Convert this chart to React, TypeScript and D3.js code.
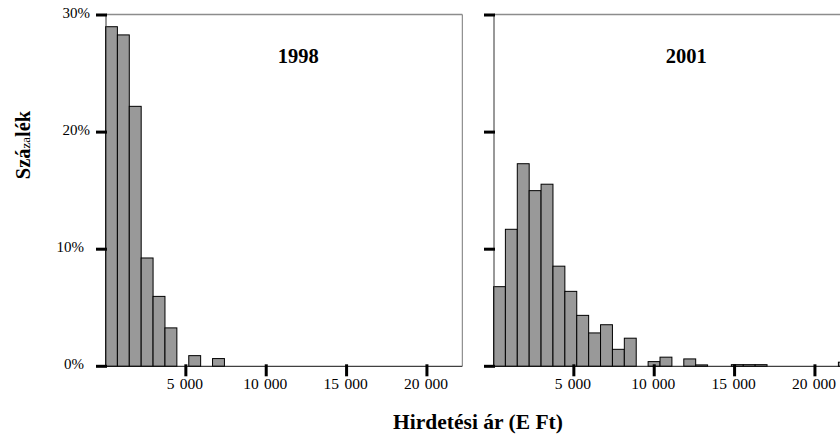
import { scaleLinear } from 'd3';

// Histograms of listing prices (thousand Ft), share of listings per price bin.
const BIN_WIDTH = 740;
const pct1998 = [29.0, 28.3, 22.2, 9.25, 5.97, 3.28, 0, 0.91, 0, 0.66];
const pct2001 = [
  6.8, 11.7, 17.3, 15.0, 15.55, 8.55, 6.4, 4.35, 2.85, 3.55,
  1.45, 2.4, 0, 0.4, 0.78, 0, 0.63, 0.12, 0, 0,
  0.14, 0.14, 0.14, 0, 0, 0, 0, 0, 0, 0.35,
];
const xTicks = [5000, 10000, 15000, 20000];
const yTicks = [0, 10, 20, 30];
const panels = [
  { title: '1998', values: pct1998, left: 105.5, showYLabels: true },
  { title: '2001', values: pct2001, left: 493.5, showYLabels: false },
];

const W = 840;
const H = 435;
const FONT = '"Liberation Serif", "Times New Roman", serif';
const PLOT_W = 356.8;

function Panel({ title, values, left, showYLabels }: { title: string; values: number[]; left: number; showYLabels: boolean }) {
  const x = scaleLinear().domain([0, 22200]).range([left, left + PLOT_W]);
  const y = scaleLinear().domain([0, 30]).range([366.3, 15]);
  const x0 = x(0) + 0.5;
  const x1 = x(22200);
  const yTop = y(30) - 0.5;
  const yBase = y(0);
  return (
    <g>
      {/* frame: gray top and right, dark left and bottom */}
      <line x1={x0} x2={x1} y1={yTop} y2={yTop} stroke="#8c8c8c" strokeWidth={1.5} />
      <line x1={x1} x2={x1} y1={yTop} y2={yBase} stroke="#777" strokeWidth={1} />
      {values.map((v, i) =>
        v > 0 ? (
          <rect
            key={i}
            x={x(i * BIN_WIDTH)}
            y={y(v)}
            width={x((i + 1) * BIN_WIDTH) - x(i * BIN_WIDTH)}
            height={yBase - y(v)}
            fill="#999"
            stroke="#000"
            strokeWidth={1}
          />
        ) : null,
      )}
      <line x1={x0} x2={x0} y1={yTop} y2={yBase} stroke="#333" strokeWidth={1} />
      <line x1={x0} x2={x1} y1={yBase} y2={yBase} stroke="#111" strokeWidth={1} />
      {yTicks.map((t) => (
        <g key={t}>
          <rect x={x0 - 10} y={y(t) - 1.5} width={11} height={3} fill="#000" />
          {showYLabels && (
            <text x={t >= 20 ? 90 : 84} y={y(t) + 2.5} textAnchor="end" fill="#000" style={{ fontSize: 15, fontFamily: FONT }}>
              {t}%
            </text>
          )}
        </g>
      ))}
      {xTicks.map((t) => (
        <g key={t}>
          <rect x={x(t) - 1.5} y={yBase - 2} width={3} height={12} fill="#000" />
          {/* thousands separated by a slightly wider gap, as in the source */}
          <text x={x(t) - 1} y={389} textAnchor="middle" fill="#000" style={{ fontSize: 15.5, fontFamily: FONT }}>
            <tspan>{Math.floor(t / 1000)} </tspan>
            <tspan dx={1.5}>{String(t % 1000).padStart(3, '0')}</tspan>
          </text>
        </g>
      ))}
      <text x={x(12000)} y={63} textAnchor="middle" fill="#000" style={{ fontSize: 20.5, fontWeight: 700, fontFamily: FONT }}>
        {title}
      </text>
    </g>
  );
}

export default function App() {
  return (
    <svg width={W} height={H} viewBox={`0 0 ${W} ${H}`} style={{ position: 'absolute', left: 0, top: 0, background: '#fff' }}>
      {panels.map((p) => (
        <Panel key={p.title} {...p} />
      ))}
      <text transform="translate(30,145) rotate(-90)" textAnchor="middle" fill="#000" style={{ fontFamily: FONT }}>
        <tspan style={{ fontSize: 20.5, fontWeight: 700 }}>Szá</tspan>
        <tspan style={{ fontSize: 13, fontWeight: 400 }}>za</tspan>
        <tspan style={{ fontSize: 20.5, fontWeight: 700 }}>lék</tspan>
      </text>
      <text x={478} y={429} textAnchor="middle" fill="#000" style={{ fontSize: 21.5, fontWeight: 700, fontFamily: FONT }}>
        Hirdetési ár (E Ft)
      </text>
    </svg>
  );
}
